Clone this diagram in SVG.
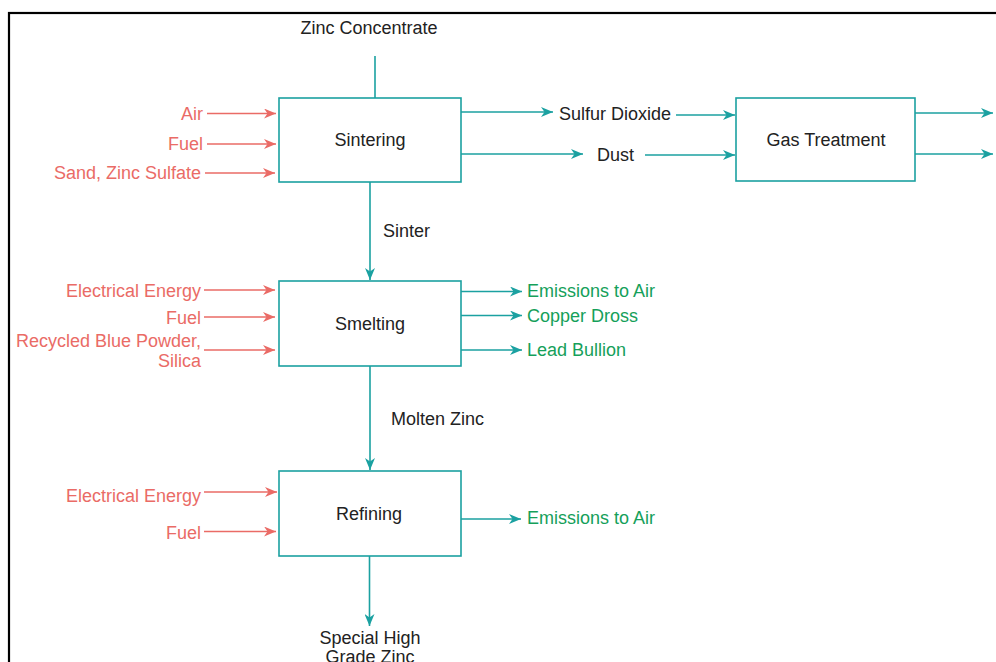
<svg xmlns="http://www.w3.org/2000/svg" width="996" height="662" viewBox="0 0 996 662">
<defs>
<style>
text{font-family:"Liberation Sans",Arial,Helvetica,sans-serif;font-size:18px}
.k{fill:#222}
.r{fill:#EA6B66}
.g{fill:#15A05A}
.box{fill:#fff;stroke:#1BA1A1;stroke-width:1.6}
.t{stroke:#1BA1A1;stroke-width:1.6;fill:none}
.rl{stroke:#EA6B66;stroke-width:1.6;fill:none}
</style>
<marker id="at" viewBox="0 0 12 10" refX="12" refY="5" markerWidth="12" markerHeight="10" markerUnits="userSpaceOnUse" orient="auto"><path d="M0,0 L12,5 L0,10 L3.5,5 z" fill="#1BA1A1"/></marker>
<marker id="ar" viewBox="0 0 12 10" refX="12" refY="5" markerWidth="12" markerHeight="10" markerUnits="userSpaceOnUse" orient="auto"><path d="M0,0 L12,5 L0,10 L3.5,5 z" fill="#EA6B66"/></marker>
</defs>
<rect x="0" y="0" width="996" height="662" fill="#fff"/>
<rect x="9" y="13" width="1010" height="700" fill="none" stroke="#000" stroke-width="2.2"/>

<g id="connectors">
<line class="t" x1="375" y1="56" x2="375" y2="98"/>
<line class="rl" x1="207" y1="113.5" x2="276" y2="113.5" marker-end="url(#ar)"/>
<line class="rl" x1="207" y1="144" x2="276" y2="144" marker-end="url(#ar)"/>
<line class="rl" x1="205" y1="173" x2="275" y2="173" marker-end="url(#ar)"/>
<line class="t" x1="461" y1="112" x2="553" y2="112" marker-end="url(#at)"/>
<line class="t" x1="461" y1="154" x2="583" y2="154" marker-end="url(#at)"/>
<line class="t" x1="676" y1="115" x2="735" y2="115" marker-end="url(#at)"/>
<line class="t" x1="645" y1="155" x2="735" y2="155" marker-end="url(#at)"/>
<line class="t" x1="915" y1="113" x2="993" y2="113" marker-end="url(#at)"/>
<line class="t" x1="915" y1="154" x2="993" y2="154" marker-end="url(#at)"/>
<line class="t" x1="370" y1="182" x2="370" y2="280" marker-end="url(#at)"/>
<line class="rl" x1="204" y1="290" x2="275" y2="290" marker-end="url(#ar)"/>
<line class="rl" x1="204" y1="317" x2="275" y2="317" marker-end="url(#ar)"/>
<line class="rl" x1="204" y1="350" x2="275" y2="350" marker-end="url(#ar)"/>
<line class="t" x1="461" y1="291.5" x2="522" y2="291.5" marker-end="url(#at)"/>
<line class="t" x1="461" y1="315.5" x2="522" y2="315.5" marker-end="url(#at)"/>
<line class="t" x1="461" y1="350" x2="522" y2="350" marker-end="url(#at)"/>
<line class="t" x1="370" y1="366" x2="370" y2="470" marker-end="url(#at)"/>
<line class="rl" x1="204" y1="492" x2="277" y2="492" marker-end="url(#ar)"/>
<line class="rl" x1="204" y1="531.5" x2="276" y2="531.5" marker-end="url(#ar)"/>
<line class="t" x1="461" y1="519" x2="521" y2="519" marker-end="url(#at)"/>
<line class="t" x1="369.5" y1="556" x2="369.5" y2="626" marker-end="url(#at)"/>
</g>

<g id="sintering">
<rect class="box" x="279" y="98" width="182" height="84"/>
<text class="k" x="370" y="146" text-anchor="middle">Sintering</text>
</g>
<g id="gas-treatment">
<rect class="box" x="736" y="98" width="179" height="83"/>
<text class="k" x="826" y="146" text-anchor="middle">Gas Treatment</text>
</g>
<g id="smelting">
<rect class="box" x="279" y="281" width="182" height="85"/>
<text class="k" x="370" y="330" text-anchor="middle">Smelting</text>
</g>
<g id="refining">
<rect class="box" x="279" y="471" width="182" height="85"/>
<text class="k" x="369" y="520" text-anchor="middle">Refining</text>
</g>

<g id="labels">
<text class="k" x="369" y="34" text-anchor="middle">Zinc Concentrate</text>
<text class="r" x="203" y="120" text-anchor="end">Air</text>
<text class="r" x="203" y="150" text-anchor="end">Fuel</text>
<text class="r" x="201" y="179" text-anchor="end">Sand, Zinc Sulfate</text>
<text class="k" x="559" y="120">Sulfur Dioxide</text>
<text class="k" x="597" y="161">Dust</text>
<text class="k" x="383" y="237">Sinter</text>
<text class="r" x="201" y="297" text-anchor="end">Electrical Energy</text>
<text class="r" x="201" y="324" text-anchor="end">Fuel</text>
<text class="r" x="201" y="347" text-anchor="end">Recycled Blue Powder,</text>
<text class="r" x="201" y="367" text-anchor="end">Silica</text>
<text class="g" x="527" y="297">Emissions to Air</text>
<text class="g" x="527" y="322">Copper Dross</text>
<text class="g" x="527" y="356">Lead Bullion</text>
<text class="k" x="391" y="425">Molten Zinc</text>
<text class="r" x="201" y="502" text-anchor="end">Electrical Energy</text>
<text class="r" x="201" y="539" text-anchor="end">Fuel</text>
<text class="g" x="527" y="524">Emissions to Air</text>
<text class="k" x="370" y="644" text-anchor="middle">Special High</text>
<text class="k" x="370" y="663" text-anchor="middle">Grade Zinc</text>
</g>
</svg>
